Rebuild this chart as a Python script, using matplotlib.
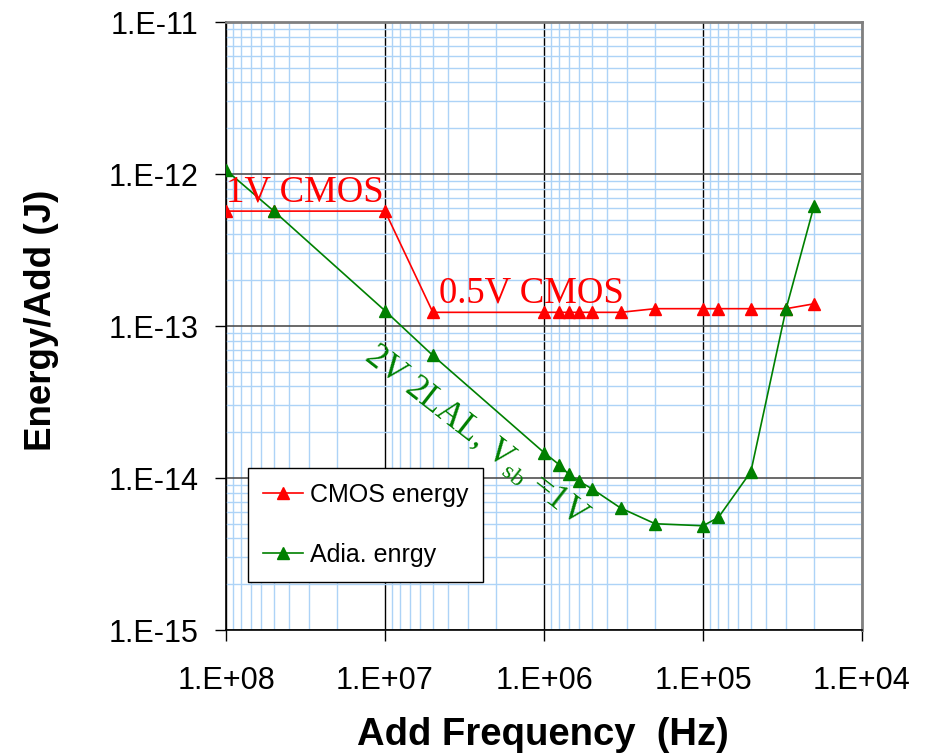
import numpy as np
import matplotlib.pyplot as plt
from matplotlib.ticker import FuncFormatter, FixedLocator, NullFormatter

# add frequency (Hz) and energy per add (J)
freq = [1e8, 5e7, 1e7, 5e6, 1e6, 8e5, 7e5, 6e5, 5e5, 3.3e5, 2e5, 1e5, 8e4, 5e4, 3e4, 2e4]
cmos_energy = [5.7e-13, 5.7e-13, 5.7e-13, 1.23e-13, 1.23e-13, 1.23e-13, 1.23e-13, 1.23e-13,
               1.23e-13, 1.23e-13, 1.3e-13, 1.3e-13, 1.3e-13, 1.3e-13, 1.3e-13, 1.4e-13]
adia_energy = [1.06e-12, 5.7e-13, 1.26e-13, 6.4e-14, 1.47e-14, 1.22e-14, 1.06e-14, 9.5e-15,
               8.5e-15, 6.35e-15, 5.0e-15, 4.85e-15, 5.5e-15, 1.1e-14, 1.3e-13, 6.2e-13]

x_decades = [4, 5, 6, 7, 8]
y_decades = [-15, -14, -13, -12, -11]

sans = 'Liberation Sans'
serif = 'Liberation Serif'
plt.rcParams['font.family'] = sans
plt.rcParams['mathtext.fontset'] = 'custom'
plt.rcParams['mathtext.rm'] = serif

fig = plt.figure(figsize=(9.29, 7.54), dpi=100)
ax = fig.add_axes([226 / 929, 1 - 630 / 754, 636 / 929, 608 / 754])

ax.plot(freq, cmos_energy, color='#FF0000', marker='^', ms=8, lw=1.2, label='CMOS energy', zorder=3)
ax.plot(freq, adia_energy, color='#008000', marker='^', ms=8, lw=1.2, label='Adia. enrgy', zorder=3)

ax.set_xscale('log')
ax.set_yscale('log')
ax.set_xlim(1e8, 1e4)
ax.set_ylim(1e-15, 1e-11)

def minor_ticks(decades):
    return [m * 10.0 ** d for d in decades[:-1] for m in range(2, 10)]

fmt = FuncFormatter(lambda v, p: '1.E%+03d' % int(round(np.log10(v))))
ax.xaxis.set_major_locator(FixedLocator([10.0 ** d for d in x_decades]))
ax.yaxis.set_major_locator(FixedLocator([10.0 ** d for d in y_decades]))
ax.xaxis.set_minor_locator(FixedLocator(minor_ticks(x_decades)))
ax.yaxis.set_minor_locator(FixedLocator(minor_ticks(y_decades)))
for a in (ax.xaxis, ax.yaxis):
    a.set_major_formatter(fmt)
    a.set_minor_formatter(NullFormatter())

ax.grid(which='minor', axis='both', color='#ADD3F7', lw=1.0, zorder=0)
ax.grid(which='major', axis='x', color='black', lw=1.0, zorder=1)
ax.grid(which='major', axis='y', color='#505050', lw=1.2, zorder=1)
ax.set_axisbelow(True)

ax.tick_params(which='major', direction='out', length=8, width=1, labelsize=22, color='black')
ax.tick_params(axis='x', pad=18)
ax.tick_params(axis='y', pad=12)
ax.tick_params(which='minor', length=0)

for s in ('top', 'right'):
    ax.spines[s].set_color('#808080')
    ax.spines[s].set_linewidth(2)
for s in ('left', 'bottom'):
    ax.spines[s].set_color('black')
    ax.spines[s].set_linewidth(1.2)

fig.text(543 / 929, 1 - 745 / 754, 'Add Frequency  (Hz)', ha='center', va='baseline',
         fontsize=27.5, fontweight='bold')
fig.text(42 / 929, 1 - 320 / 754, 'Energy/Add (J)', ha='center', va='center',
         rotation=90, fontsize=26.5, fontweight='bold')

ax.text(1.0e8, 5.8e-13, '1V CMOS', color='#FF0000', fontsize=26.5, family=serif,
        ha='left', va='bottom')
ax.text(4.6e6, 1.27e-13, '0.5V CMOS', color='#FF0000', fontsize=26.5, family=serif,
        ha='left', va='bottom')
ax.text(2.68e6, 1.9e-14, r'2V 2LAL, V$_{\mathregular{sb}}$ =1V', color='#008000', fontsize=25,
        family=serif, rotation=-38, rotation_mode='anchor', ha='center', va='center')

leg = ax.legend(loc='lower left', bbox_to_anchor=(0.035, 0.079), fontsize=18, frameon=True,
                fancybox=False, edgecolor='black', framealpha=1, handlelength=1.6,
                labelspacing=1.45, borderpad=0.6, handletextpad=0.25, borderaxespad=0)
leg.get_frame().set_linewidth(1.0)

fig.savefig('out.png', dpi=100)
